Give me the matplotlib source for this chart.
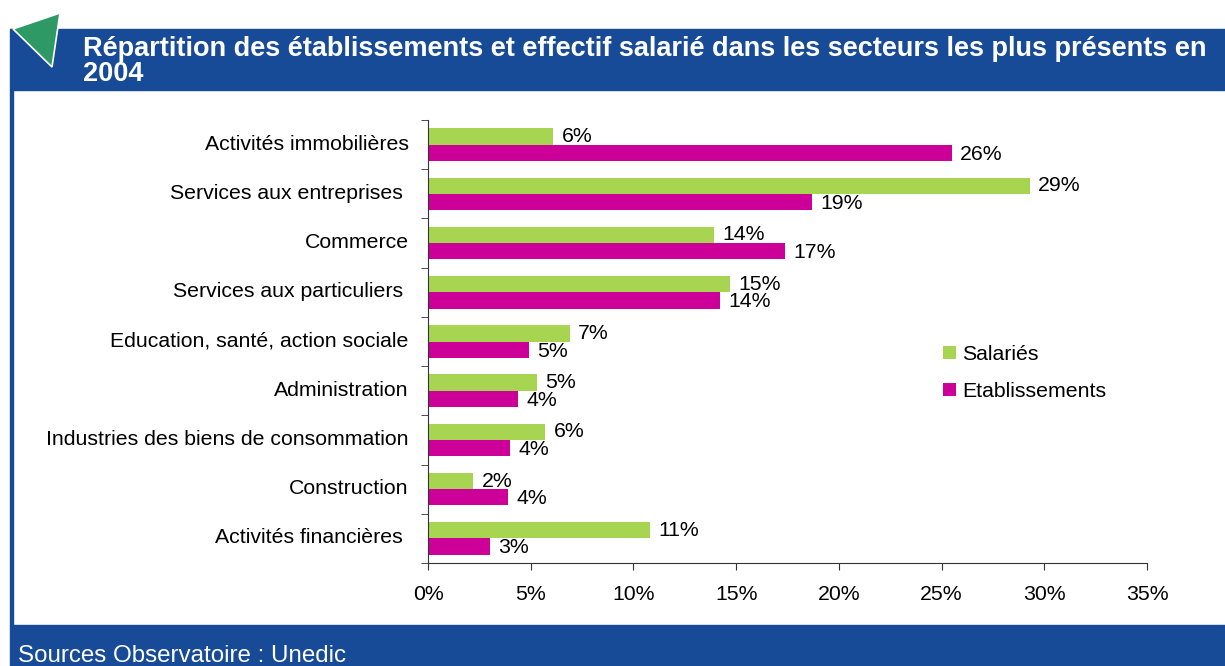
import matplotlib
matplotlib.use("Agg")
import matplotlib.pyplot as plt
from matplotlib.patches import Polygon, Rectangle
from matplotlib.ticker import FixedLocator, FuncFormatter
import numpy as np

# data (top to bottom)
categories = [
    "Activités immobilières",
    "Services aux entreprises ",
    "Commerce",
    "Services aux particuliers ",
    "Education, santé, action sociale",
    "Administration",
    "Industries des biens de consommation",
    "Construction",
    "Activités financières ",
]
salaries = [6.1, 29.3, 13.9, 14.7, 6.9, 5.3, 5.7, 2.2, 10.8]
etablissements = [25.5, 18.7, 17.4, 14.2, 4.9, 4.4, 4.0, 3.9, 3.0]
x_ticks = [0, 5, 10, 15, 20, 25, 30, 35]

title = ("Répartition des établissements et effectif salarié dans les secteurs les plus présents en\n"
         "2004")
source = "Sources Observatoire : Unedic"

BLUE = "#174a97"
GREEN_BAR = "#a8d551"
MAGENTA = "#cc0099"
FONT = ["Liberation Sans", "DejaVu Sans"]
FS = 15.3

plt.rcParams["font.family"] = FONT

W, H = 1225, 666
fig = plt.figure(figsize=(W / 100, H / 100), dpi=100)

# header band, footer band, left frame line
fig.patches.append(Rectangle((11 / W, 1 - 90 / H), 1, 61 / H, transform=fig.transFigure,
                             color=BLUE, zorder=0))
fig.patches.append(Rectangle((11 / W, 0), 1, 41 / H, transform=fig.transFigure,
                             color=BLUE, zorder=0))
fig.patches.append(Rectangle((10 / W, 0), 2.5 / W, 1 - 29 / H, transform=fig.transFigure,
                             color=BLUE, zorder=0))
tri = [(13 / W, 1 - 29 / H), (60 / W, 1 - 13 / H), (52 / W, 1 - 67 / H)]
fig.patches.append(Polygon(tri, closed=True, transform=fig.transFigure,
                           facecolor="#2f9965", edgecolor="white", linewidth=1.2, zorder=2))

fig.text(83 / W, 1 - 61.5 / H, title, color="white", fontsize=19.5, fontweight="bold",
         va="center", ha="left", linespacing=0.95)
fig.text(18 / W, 1 - 662 / H, source, color="white", fontsize=17.4, va="baseline", ha="left")

ax = fig.add_axes([428 / W, 1 - 563 / H, (1147 - 428) / W, (563 - 120) / H])

n = len(categories)
y = np.arange(n)
h = 0.33
ax.barh(y - h / 2, salaries, height=h, color=GREEN_BAR, label="Salariés")
ax.barh(y + h / 2, etablissements, height=h, color=MAGENTA, label="Etablissements")

for yi, s, e in zip(y, salaries, etablissements):
    ax.annotate(f"{round(s):d}%", (s, yi - h / 2), xytext=(6, 0), textcoords="offset points",
                va="center", ha="left", fontsize=FS)
    ax.annotate(f"{round(e):d}%", (e, yi + h / 2), xytext=(6, -1), textcoords="offset points",
                va="center", ha="left", fontsize=FS)

ax.set_ylim(n - 0.5, -0.5)
ax.set_xlim(0, 35)
ax.set_yticks(y - 0.05)
ax.set_yticklabels(categories, fontsize=FS)
ax.tick_params(axis="y", length=0, pad=14)
ax.yaxis.set_minor_locator(FixedLocator(np.arange(-0.5, n, 1.0)))
ax.tick_params(axis="y", which="minor", length=5, color="#333333")
ax.set_xticks(x_ticks)
ax.xaxis.set_major_formatter(FuncFormatter(lambda v, p: f"{int(v)}%"))
ax.tick_params(axis="x", length=5, color="#333333", labelsize=FS, pad=11)
for side in ("top", "right"):
    ax.spines[side].set_visible(False)
for side in ("left", "bottom"):
    ax.spines[side].set_color("#333333")

ax.legend(loc="upper left", bbox_to_anchor=(924 / W, 1 - 326 / H), bbox_transform=fig.transFigure,
          frameon=False, fontsize=FS, handlelength=0.6, handleheight=0.6, handletextpad=0.3,
          labelspacing=0.85)

fig.savefig("out.png", dpi=100)
